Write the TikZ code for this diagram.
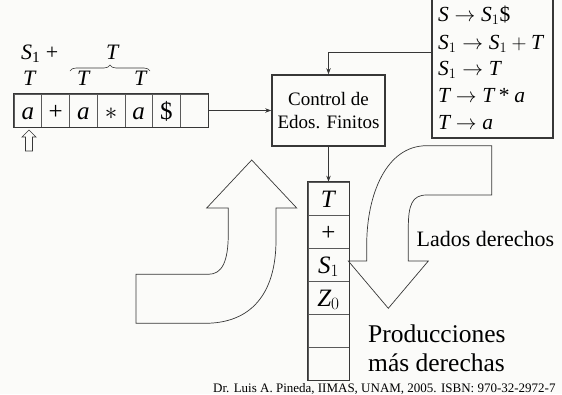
\documentclass[tikz,border=0pt]{standalone}
\usepackage{fontspec}
\setmainfont{Liberation Serif}
\usetikzlibrary{decorations.pathreplacing,arrows.meta}
\definecolor{bg}{RGB}{251,251,249}
\definecolor{ln}{RGB}{55,55,55}
\definecolor{thin}{RGB}{90,90,90}
\begin{document}
\begin{tikzpicture}[x=1pt,y=-1pt,
  cellbox/.style={draw=thin, line width=0.7pt, minimum width=27.7pt, minimum height=33pt,
    inner sep=0pt, text height=21pt, text depth=4pt, font=\fontsize{25}{30}\selectfont},
  stackcell/.style={cellbox, minimum width=41pt},
  frame/.style={draw=ln, line width=1.6pt},
  conn/.style={draw=ln, line width=0.7pt, -{Stealth[length=6pt,width=4.5pt]}},
  bigarrow/.style={draw=ln, line width=0.7pt},
  lbl/.style={font=\fontsize{22}{26}\selectfont, inner sep=0pt, anchor=base},
  gline/.style={font=\fontsize{21.5}{26}\selectfont, inner sep=0pt, anchor=base west},
]
\useasboundingbox (0,0) rectangle (562,394);
\fill[bg] (0,0) rectangle (562,394);

% tape
\node[cellbox] (c1) at (27.86,110.5) {\textit{a}};
\node[cellbox] (c2) at (55.57,110.5) {+};
\node[cellbox] (c3) at (83.29,110.5) {\textit{a}};
\node[cellbox] (c4) at (111.00,110.5) {$\ast$};
\node[cellbox] (c5) at (138.71,110.5) {\textit{a}};
\node[cellbox] (c6) at (166.43,110.5) {\$};
\node[cellbox] (c7) at (194.14,110.5) {};
\draw[frame] (c1.north west) rectangle (c7.south east);

% labels above the tape
\node[lbl, anchor=base west] (l1) at (21,59) {\textit{S}\textsubscript{1} +};
\node[lbl] (l2) at (30,85) {\textit{T}};
\node[lbl] (l3) at (113,59) {\textit{T}};
\node[lbl] (l4) at (84,85) {\textit{T}};
\node[lbl] (l5) at (141,85) {\textit{T}};
\draw[ln, line width=0.6pt, decorate, decoration={brace, amplitude=6pt}] (70,71) -- (150,71);

% small hollow arrow under the head
\draw[ln, line width=0.7pt] (25.5,151) -- (25.5,137) -- (22,137) -- (29,130) -- (36,137) -- (32.5,137) -- (32.5,151) -- cycle;

% control
\node[frame, minimum width=113pt, minimum height=71pt, align=center, inner sep=0pt,
  font=\fontsize{19}{22.7}\selectfont] (ctrl) at (328.5,110.5) {Control de\\Edos. Finitos};

% grammar
\node[frame, minimum width=121pt, minimum height=150pt, inner sep=0pt] (gram) at (492.5,63) {};
\node[gline] (g1) at (438,21.7) {$\textit{S}\rightarrow\textit{S}_1\mbox{\$}$};
\node[gline] (g2) at (438,49.3) {$\textit{S}_1\rightarrow\textit{S}_1+\textit{T}$};
\node[gline] (g3) at (438,75.5) {$\textit{S}_1\rightarrow\textit{T}$};
\node[gline] (g4) at (438,102) {$\textit{T}\rightarrow\textit{T}\mathbin{\mbox{*}}\textit{a}$};
\node[gline] (g5) at (438,129) {$\textit{T}\rightarrow\textit{a}$};

% stack
\node[stackcell] (s1) at (328.5,198.5) {\textit{T}};
\node[stackcell] (s2) at (328.5,231.5) {+};
\node[stackcell] (s3) at (328.5,264.5) {$\textit{S}_1$};
\node[stackcell] (s4) at (328.5,297.5) {$\textit{Z}_0$};
\node[stackcell] (s5) at (328.5,330.5) {};
\node[stackcell] (s6) at (328.5,363.5) {};
\draw[frame] (s1.north west) rectangle (s6.south east);

% connectors
\coordinate (gin) at (432,52);
\draw[conn] (c7.east) -- (ctrl.west);
\draw[conn] (gin) -| (ctrl.north);
\draw[conn] (ctrl.south) -- (s1.north);

% big up arrow (left)
\draw[bigarrow] (136,274.3) -- (208.3,274.3) .. controls (222,274.3) and (228.3,262) .. (228.3,233)
  -- (228.3,208) -- (206.7,208) -- (251.7,160) -- (296.7,208) -- (276,208) -- (276,240)
  .. controls (276,295) and (250,323.3) .. (205,323.3) -- (136,323.3) -- cycle;

% big down arrow (right)
\draw[bigarrow] (491.7,145.7) -- (426.7,145.7) .. controls (386,145.7) and (366.7,195) .. (366.7,245)
  -- (366.7,261) -- (348.3,261) -- (388.3,308.3) -- (428.3,261) -- (408.3,261) -- (408.3,228)
  .. controls (408.3,205) and (412,195) .. (426.7,195) -- (491.7,195) -- cycle;

% texts
\node[inner sep=0pt, anchor=base west, font=\fontsize{22}{26}\selectfont] (lados) at (416.5,246.5) {Lados derechos};
\node[inner sep=0pt, anchor=base west, align=left, font=\fontsize{25.5}{29}\selectfont] (prod) at (368,342.7) {Producciones};
\node[inner sep=0pt, anchor=base west, font=\fontsize{25.5}{29}\selectfont] (mas) at (368,371.7) {más derechas};
\node[inner sep=0pt, anchor=base west, font=\fontsize{13}{15}\selectfont] (foot) at (213,392.5) {Dr. Luis A. Pineda, IIMAS, UNAM, 2005. ISBN: 970-32-2972-7};
\end{tikzpicture}
\end{document}
